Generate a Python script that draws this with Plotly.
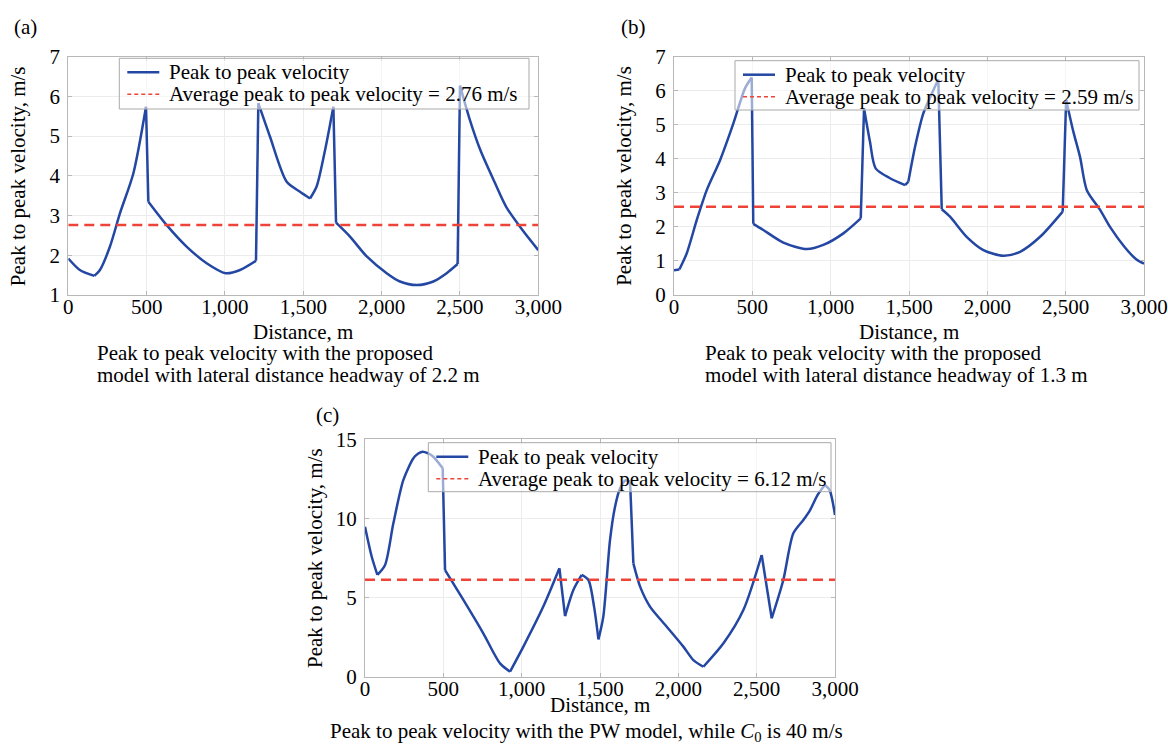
import math
import plotly.graph_objects as go

# ---------------- data ----------------
xa = [0, 74, 166, 202, 266, 330, 415, 496,
      511, 628, 755, 883, 1004, 1096, 1198,
      1213, 1287, 1394, 1479, 1543, 1585, 1639, 1692,
      1709, 1798, 1905, 2032, 2117, 2224, 2330, 2415, 2485,
      2500, 2560, 2630, 2720, 2795, 2900, 3000]
ya = [1.92, 1.63, 1.48, 1.63, 2.22, 3.06, 4.06, 5.74,
      3.35, 2.76, 2.22, 1.80, 1.55, 1.63, 1.86,
      5.83, 4.99, 3.85, 3.60, 3.43, 3.73, 4.65, 5.74,
      2.82, 2.47, 1.97, 1.55, 1.34, 1.25, 1.34, 1.55, 1.78,
      6.27, 5.45, 4.65, 3.85, 3.22, 2.63, 2.13]
avg_a = 2.76

xb = [0, 34, 81, 145, 209, 294, 379, 453, 496,
      506, 570, 698, 847, 953, 1081, 1192,
      1213, 1251, 1287, 1379, 1475, 1496, 1539, 1592, 1656, 1687,
      1709, 1762, 1868, 1975, 2102, 2209, 2337, 2481,
      2503, 2549, 2592, 2635, 2720, 2783, 2876, 2950, 3000]
yb = [0.73, 0.75, 1.22, 2.20, 3.08, 3.96, 5.04, 6.07, 6.39,
      2.09, 1.91, 1.54, 1.35, 1.47, 1.81, 2.25,
      5.48, 4.50, 3.72, 3.43, 3.23, 3.33, 4.36, 5.34, 6.02, 6.33,
      2.52, 2.30, 1.71, 1.32, 1.15, 1.27, 1.71, 2.45,
      5.73, 4.80, 4.05, 3.08, 2.50, 2.00, 1.41, 1.05, 0.92]
avg_b = 2.59

xc = [0, 43, 79, 128, 181, 245, 309, 340, 368, 400, 436, 496,
      511, 628, 755, 862, 926, 1011, 1138, 1241,
      1277, 1330, 1383, 1426, 1462, 1490, 1521, 1564, 1596, 1628, 1660, 1692,
      1713, 1756, 1819, 1926, 2032, 2096, 2160, 2288, 2415, 2532,
      2596, 2670, 2734, 2798, 2841, 2890, 2935, 2965, 3000]
yc = [9.48, 7.58, 6.43, 7.06, 9.69, 12.43, 13.80, 14.10, 14.22, 14.12, 13.90, 13.17,
      6.74, 4.85, 2.74, 0.84, 0.32, 1.90, 4.43, 6.85,
      3.83, 5.48, 6.43, 6.11, 4.43, 2.36, 3.79, 8.64, 10.74, 11.90, 12.43, 12.32,
      7.16, 5.69, 4.43, 3.16, 1.90, 1.05, 0.63, 2.11, 4.21, 7.69,
      3.69, 6.11, 9.06, 9.90, 10.53, 11.50, 12.11, 11.80, 10.22]
avg_c = 6.12

x_ticks = [0, 500, 1000, 1500, 2000, 2500, 3000]
panel_labels = ["(a)", "(b)", "(c)"]
legend_names = ["Peak to peak velocity", "Average peak to peak velocity = {:.2f} m/s"]
x_title = "Distance, m"
y_title = "Peak to peak velocity, m/s"
captions = [
    ["Peak to peak velocity with the proposed", "model with lateral distance headway of 2.2 m"],
    ["Peak to peak velocity with the proposed", "model with lateral distance headway of 1.3 m"],
    ["Peak to peak velocity with the PW model, while <i>C</i><sub>0</sub> is 40 m/s"],
]

# ---------------- style ----------------
FONT = "Liberation Serif, Times New Roman, serif"
FS = 21
BLUE = "#2347a3"
RED = "#ee4438"
AXC = "#b8b8b8"
GRIDC = "#ececec"
W, H = 1168, 746


def px(x):
    return x / W


def py(y):
    return 1 - y / H


# pixel boxes of each panel (page coords): left, right, top, bottom
boxes = [(68.3, 538.3, 56.7, 295.0), (674.0, 1144.0, 56.7, 295.0), (365.0, 835.0, 439.3, 676.7)]
yranges = [[1, 7], [0, 7], [0, 15]]
yticks = [[1, 2, 3, 4, 5, 6, 7], [0, 1, 2, 3, 4, 5, 6, 7], [0, 5, 10, 15]]
series = [(xa, ya, avg_a), (xb, yb, avg_b), (xc, yc, avg_c)]
leg_boxes = [(119.3, 529.0, 58.3, 109.0), (735.0, 1139.0, 60.7, 110.0), (428.3, 831.0, 442.7, 491.7)]
label_pos = [(25, 27), (633, 27), (327, 415)]
caption_pos = [(95, [353, 375]), (703, [353, 375]), (328, [732])]
ytitle_x = [18.3, 624.0, 315.0]
xtitle_gap = [36.5, 36.5, 28.5]


def split_pieces(x, y, xs, ys):
    """Split a polyline into pieces at jumps and sharp corners so that each
    piece can be drawn smoothly without overshoot."""
    n = len(x)
    corners = set()
    for i in range(n - 1):
        if x[i + 1] - x[i] <= 25:
            corners.add(i)
            corners.add(i + 1)
    for i in range(1, n - 1):
        a1 = math.atan2((y[i] - y[i - 1]) * ys, (x[i] - x[i - 1]) * xs)
        a2 = math.atan2((y[i + 1] - y[i]) * ys, (x[i + 1] - x[i]) * xs)
        if abs(a2 - a1) > math.radians(55):
            corners.add(i)
    cuts = sorted(c for c in corners if 0 < c < n - 1)
    pieces, start = [], 0
    for c in cuts:
        if c > start:
            pieces.append((start, c))
            start = c
    pieces.append((start, n - 1))
    return pieces


fig = go.Figure()
layout = dict(
    width=W, height=H,
    margin=dict(l=0, r=0, t=0, b=0, autoexpand=False),
    paper_bgcolor="white", plot_bgcolor="white",
    font=dict(family=FONT, size=FS, color="black"),
    showlegend=False,
)
annotations, shapes = [], []

for i, (xs_, ys_, avg) in enumerate(series):
    l, r, t, b = boxes[i]
    sfx = "" if i == 0 else str(i + 1)
    xref, yref = "x" + sfx, "y" + sfx
    xscale = (r - l) / 3000.0
    yscale = (b - t) / (yranges[i][1] - yranges[i][0])
    for (s, e) in split_pieces(xs_, ys_, xscale, yscale):
        fig.add_trace(go.Scatter(
            x=xs_[s:e + 1], y=ys_[s:e + 1], mode="lines",
            name=legend_names[0], legendgroup="ptp%d" % i,
            line=dict(color=BLUE, width=2.5, shape="spline", smoothing=0.75),
            xaxis=xref, yaxis=yref, hoverinfo="x+y"))
    fig.add_trace(go.Scatter(
        x=[0, 3000], y=[avg, avg], mode="lines", name=legend_names[1].format(avg),
        line=dict(color=RED, width=2.5, dash="10px,6px"),
        xaxis=xref, yaxis=yref))

    layout["xaxis" + sfx] = dict(
        domain=[px(l), px(r)], range=[0, 3000], anchor=yref,
        tickvals=x_ticks, tickformat=",d",
        showgrid=True, gridcolor=GRIDC, gridwidth=1, zeroline=False,
        showline=True, linecolor=AXC, linewidth=1, mirror="ticks",
        ticks="inside", ticklen=4, tickcolor=AXC,
        tickfont=dict(size=FS), ticklabelstandoff=-7,
    )
    layout["yaxis" + sfx] = dict(
        domain=[py(b), py(t)], range=yranges[i], anchor=xref,
        tickvals=yticks[i],
        showgrid=True, gridcolor=GRIDC, gridwidth=1, zeroline=False,
        showline=True, linecolor=AXC, linewidth=1, mirror="ticks",
        ticks="inside", ticklen=4, tickcolor=AXC,
        tickfont=dict(size=FS), ticklabelstandoff=3,
    )

    # axis titles
    annotations.append(dict(text=x_title, x=px((l + r) / 2), y=py(b + xtitle_gap[i]), xref="paper",
                            yref="paper", showarrow=False, xanchor="center", yanchor="middle",
                            font=dict(size=FS)))
    annotations.append(dict(text=y_title, x=px(ytitle_x[i]), y=py((t + b) / 2), xref="paper", yref="paper",
                            showarrow=False, xanchor="center", yanchor="middle", textangle=-90,
                            font=dict(size=FS)))

    # legend (drawn as a framed key)
    ll, lr, lt, lb = leg_boxes[i]
    shapes.append(dict(type="rect", xref="paper", yref="paper", x0=px(ll), x1=px(lr), y0=py(lb), y1=py(lt),
                       line=dict(color="#a9a9a9", width=1), fillcolor="rgba(255,255,255,0.55)",
                       layer="above"))
    row1 = lt + 14
    row2 = lt + 36
    shapes.append(dict(type="line", xref="paper", yref="paper", x0=px(ll + 8), x1=px(ll + 40),
                       y0=py(row1), y1=py(row1), line=dict(color=BLUE, width=2.5), layer="above"))
    shapes.append(dict(type="line", xref="paper", yref="paper", x0=px(ll + 8), x1=px(ll + 40),
                       y0=py(row2), y1=py(row2), line=dict(color=RED, width=1.5, dash="4px,3px"),
                       layer="above"))
    annotations.append(dict(text=legend_names[0], x=px(ll + 48), y=py(row1), xref="paper", yref="paper",
                            showarrow=False, xanchor="left", yanchor="middle", font=dict(size=FS)))
    annotations.append(dict(text=legend_names[1].format(avg), x=px(ll + 48), y=py(row2), xref="paper",
                            yref="paper", showarrow=False, xanchor="left", yanchor="middle",
                            font=dict(size=FS)))

    # panel label
    lx, ly = label_pos[i]
    annotations.append(dict(text=panel_labels[i], x=px(lx), y=py(ly), xref="paper", yref="paper",
                            showarrow=False, xanchor="center", yanchor="middle", font=dict(size=FS)))
    # caption lines
    cx, cys = caption_pos[i]
    for line_text, cy in zip(captions[i], cys):
        annotations.append(dict(text=line_text, x=px(cx), y=py(cy), xref="paper", yref="paper",
                                showarrow=False, xanchor="left", yanchor="middle", align="left",
                                font=dict(size=FS)))

layout["annotations"] = annotations
layout["shapes"] = shapes
fig.update_layout(**layout)
# remove the browser's default page margin so the figure fills the window exactly
fig.write_html("out.html",
               config={"displayModeBar": False},
               post_script="document.body.style.margin='0';document.body.style.overflow='hidden';")
